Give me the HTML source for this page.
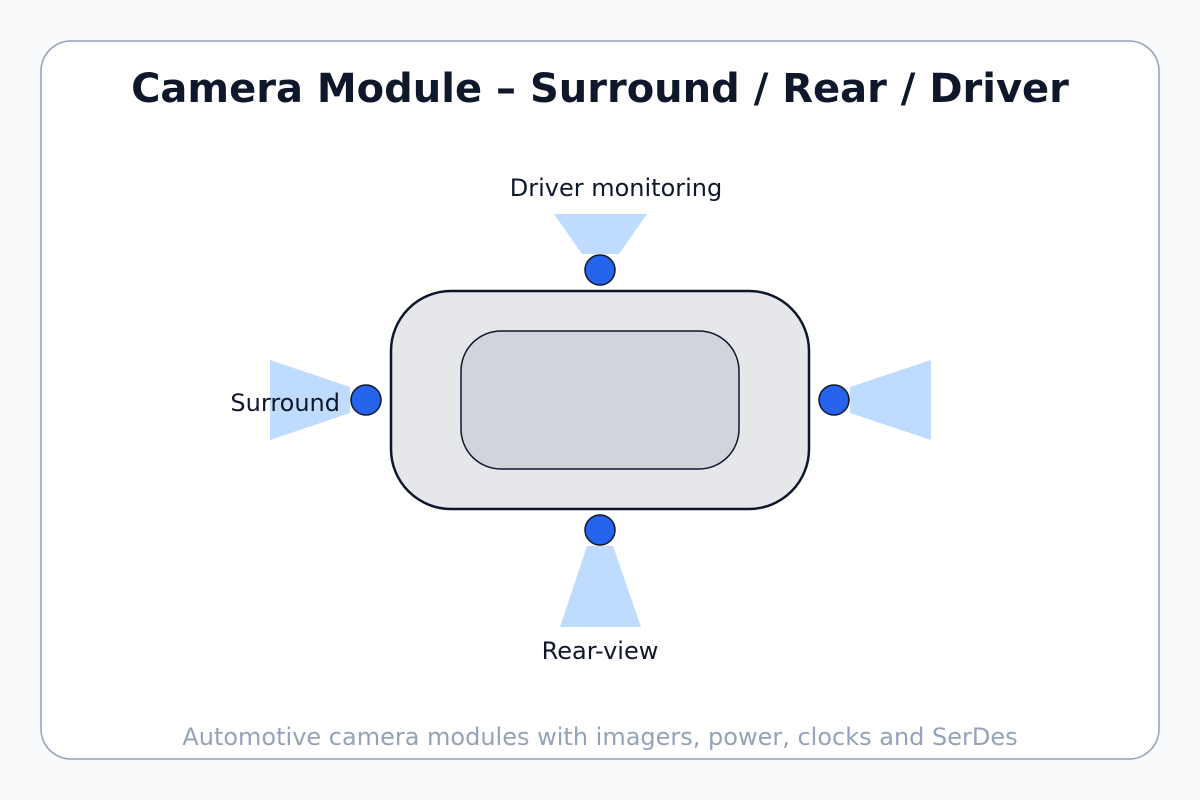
<!DOCTYPE html>
<html><head><style>body{margin:0;background:#f8fafc}svg{display:block}</style></head><body>
<svg width="1200" height="800" viewBox="0 0 1200 800" xmlns="http://www.w3.org/2000/svg" font-family="DejaVu Sans, Liberation Sans, sans-serif">
<rect width="1200" height="800" fill="#f8fafc"/>
<rect x="41" y="41" width="1118" height="718" rx="30" fill="#fff" stroke="#94a0b8" stroke-width="1.5"/>
<text x="600" y="102" text-anchor="middle" font-size="40" font-weight="bold" fill="#0f172a">Camera Module – Surround / Rear / Driver</text>
<polygon points="554,214 647,214 619,254 582,254" fill="#bfdbfe"/>
<polygon points="270,360 350,387 350,413 270,440" fill="#bfdbfe"/>
<polygon points="931,360 850,387 850,413 931,440" fill="#bfdbfe"/>
<polygon points="587,546 613,546 641,627 560,627" fill="#bfdbfe"/>
<rect x="391" y="291" width="418" height="218" rx="60" fill="#e5e7eb" stroke="#0f172a" stroke-width="2.5"/>
<rect x="461" y="331" width="278" height="138" rx="40" fill="#d1d5db" stroke="#0f172a" stroke-width="1.5"/>
<g fill="#2563eb" stroke="#0f172a" stroke-width="1.5">
<circle cx="600" cy="270" r="15"/><circle cx="366" cy="400" r="15"/><circle cx="834" cy="400" r="15"/><circle cx="600" cy="530" r="15"/>
</g>
<g font-size="24" fill="#0f172a">
<text x="616" y="196" text-anchor="middle">Driver monitoring</text>
<text x="340" y="411" text-anchor="end">Surround</text>
<text x="600" y="659" text-anchor="middle">Rear-view</text>
</g>
<text x="600" y="745" text-anchor="middle" font-size="24" fill="#94a3b8">Automotive camera modules with imagers, power, clocks and SerDes</text>
</svg>
</body></html>
